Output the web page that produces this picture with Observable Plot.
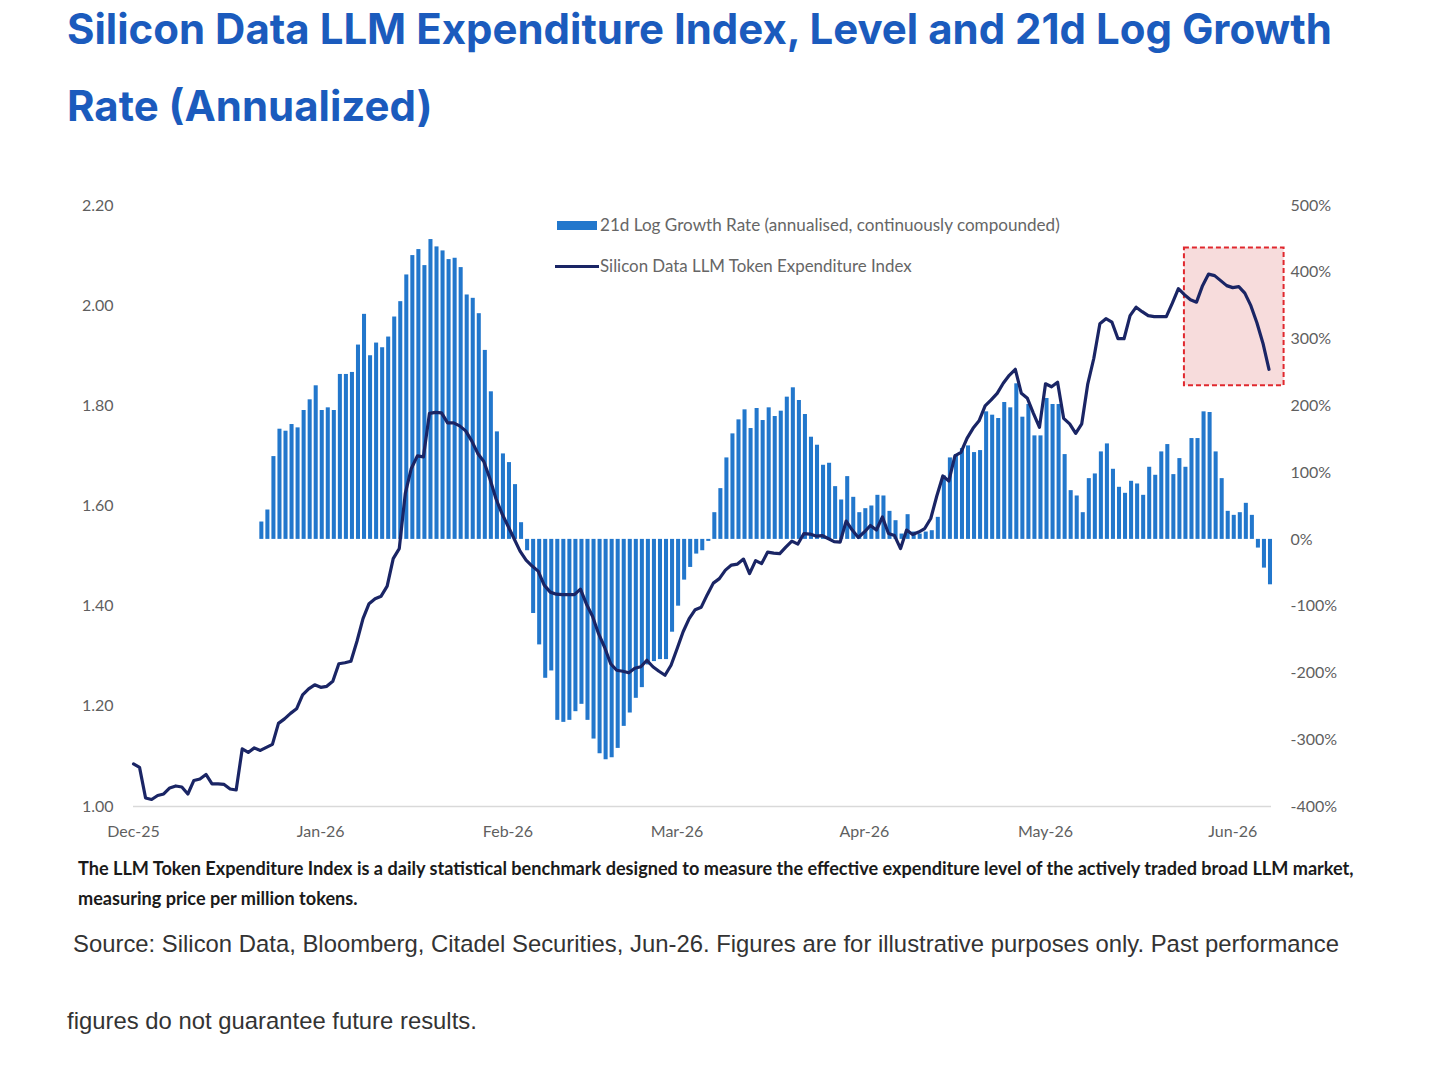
<!DOCTYPE html>
<html>
<head>
<meta charset="utf-8">
<script src="https://cdn.jsdelivr.net/npm/d3@7"></script>
<script src="https://cdn.jsdelivr.net/npm/@observablehq/plot@0.6"></script>
<style>
  html, body { margin: 0; padding: 0; background: #fff; }
  #page { position: relative; width: 1440px; height: 1069px; overflow: hidden; background: #fff; }
  .t { position: absolute; white-space: nowrap; display: inline-block; }
  .title { font-family: Inter, "Liberation Sans", sans-serif; font-weight: 700; color: #1b5bbd; font-size: 40px; line-height: 40px; letter-spacing: 0; }
  .legend { font-family: Lato, sans-serif; font-size: 16px; line-height: 16px; color: #666; }
  .note { font-family: Lato, sans-serif; font-weight: 700; font-size: 15px; line-height: 15px; color: #1a1a1a; }
  .src { font-family: "Liberation Sans", Arial, sans-serif; font-size: 22px; line-height: 22px; color: #333; }
  .chart { position: absolute; left: 0; top: 190px; }
  .sw { position: absolute; }
</style>
</head>
<body>
<div id="page">
  <div id="title1" class="t title" style="left:67px">Silicon Data LLM Expenditure Index, Level and 21d Log Growth</div>
  <div id="title2" class="t title" style="left:67px">Rate (Annualized)</div>
  <div id="chartA" class="chart"></div>
  <div id="chartB" class="chart"></div>
  <div class="sw" style="left:557px;top:221px;width:40px;height:9px;background:#2277cc"></div>
  <div class="sw" style="left:555px;top:265px;width:44px;height:3px;background:#1a2565"></div>
  <div id="leg1" class="t legend" style="left:600px">21d Log Growth Rate (annualised, continuously compounded)</div>
  <div id="leg2" class="t legend" style="left:600px">Silicon Data LLM Token Expenditure Index</div>
  <div id="note1" class="t note" style="left:78px">The LLM Token Expenditure Index is a daily statistical benchmark designed to measure the effective expenditure level of the actively traded broad LLM market,</div>
  <div id="note2" class="t note" style="left:78px">measuring price per million tokens.</div>
  <div id="src1" class="t src" style="left:73px">Source: Silicon Data, Bloomberg, Citadel Securities, Jun-26. Figures are for illustrative purposes only. Past performance</div>
  <div id="src2" class="t src" style="left:67px">figures do not guarantee future results.</div>
</div>
<script>
// ---------------- DATA ----------------
// Daily index level (left axis), starting 1 Dec 2025
const lineStart = "2025-12-01";
const indexLevel = [
  1.085,1.078,1.017,1.014,1.022,1.025,1.037,1.041,1.039,1.025,
  1.052,1.055,1.064,1.045,1.045,1.044,1.035,1.033,1.115,1.108,
  1.117,1.112,1.118,1.124,1.166,1.175,1.186,1.195,1.223,1.235,
  1.243,1.238,1.240,1.250,1.285,1.287,1.290,1.330,1.375,1.405,
  1.415,1.420,1.440,1.495,1.515,1.625,1.675,1.700,1.698,1.785,
  1.787,1.786,1.766,1.766,1.760,1.750,1.730,1.705,1.689,1.655,
  1.615,1.585,1.560,1.535,1.510,1.492,1.480,1.470,1.442,1.428,
  1.424,1.423,1.423,1.423,1.434,1.404,1.380,1.345,1.318,1.285,
  1.272,1.270,1.267,1.276,1.279,1.292,1.279,1.270,1.262,1.282,
  1.315,1.349,1.375,1.393,1.398,1.423,1.446,1.455,1.472,1.482,
  1.484,1.494,1.465,1.491,1.485,1.508,1.506,1.505,1.518,1.530,
  1.524,1.545,1.544,1.540,1.541,1.535,1.529,1.528,1.570,1.552,
  1.537,1.548,1.561,1.552,1.578,1.545,1.541,1.515,1.552,1.543,
  1.548,1.555,1.575,1.620,1.660,1.650,1.700,1.707,1.735,1.755,
  1.770,1.800,1.812,1.825,1.845,1.861,1.873,1.825,1.815,1.785,
  1.757,1.844,1.838,1.847,1.775,1.764,1.745,1.764,1.844,1.895,
  1.964,1.974,1.967,1.934,1.934,1.980,1.997,1.988,1.980,1.978,
  1.978,1.978,2.005,2.034,2.022,2.012,2.007,2.040,2.063,2.060,
  2.050,2.040,2.036,2.038,2.025,2.000,1.966,1.925,1.873
];

// Daily 21d log growth rate, annualised (%), right axis, starting 22 Dec 2025
const barStart = "2025-12-22";
const growthPct = [
  26,44,124,165,162,172,167,193,209,230,
  193,197,193,247,247,250,291,337,275,294,
  287,303,333,356,396,425,434,410,449,438,
  432,419,421,407,366,361,338,283,221,161,
  128,115,82,25,-17,-111,-158,-208,-197,-271,
  -274,-271,-258,-247,-271,-299,-321,-330,-327,-313,
  -280,-260,-238,-222,-188,-183,-180,-180,-139,-100,
  -61,-42,-22,-17,-3,40,76,122,158,179,
  194,166,196,178,197,184,192,213,227,208,
  187,153,141,111,114,79,59,94,63,40,
  46,50,66,65,42,28,8,37,11,8,
  11,13,33,95,122,127,136,140,130,133,
  191,186,181,205,197,233,183,202,155,155,
  211,202,202,127,73,65,40,91,98,131,
  143,105,78,69,87,83,66,108,96,131,
  142,97,121,108,151,151,191,190,131,91,
  42,36,40,54,36,-13,-43,-68
];

// Axis ticks
const leftTicks = [1.0, 1.2, 1.4, 1.6, 1.8, 2.0, 2.2];
const rightTicks = [-400, -300, -200, -100, 0, 100, 200, 300, 400, 500];
const monthTicks = ["2025-12-01","2026-01-01","2026-02-01","2026-03-01","2026-04-01","2026-05-01","2026-06-01"];
const xDomain = ["2025-12-01", "2026-06-07T10:00:00Z"];

// Highlighted (red dashed) region
const highlightStart = ["2026-05-24"];
const highlightEnd = ["2026-06-09T12:00:00Z"];
const highlightLow = [1.84];
const highlightHigh = [2.115];

// ---------------- BUILD ----------------
const levels = indexLevel.map((v, i) => ({date: d3.utcDay.offset(new Date(lineStart), i), value: v}));
const growth = growthPct.map((v, i) => ({date: d3.utcDay.offset(new Date(barStart), i), pct: v}));
const highlight = highlightStart.map((s, i) => ({start: new Date(s), end: new Date(highlightEnd[i]), low: highlightLow[i], high: highlightHigh[i]}));

const W = 1440, H = 660;
const common = {
  width: W, height: H,
  marginTop: 15, marginBottom: 44, marginLeft: 133, marginRight: 169,
  style: {background: "transparent", fontFamily: "Lato, sans-serif", fontSize: "16px", color: "#5f5f5f", overflow: "visible"}
};
const xd = xDomain.map(d => new Date(d));

const chartA = Plot.plot({
  ...common,
  x: {type: "utc", domain: xd, ticks: monthTicks.map(d => new Date(d)), tickFormat: d3.utcFormat("%b-%y"), tickSize: 0, tickPadding: 19, label: null},
  y: {domain: [rightTicks[0], rightTicks[rightTicks.length - 1]], axis: "right", ticks: rightTicks, tickFormat: d => d + "%", tickSize: 0, tickPadding: 19, label: null},
  marks: [
    Plot.ruleY([rightTicks[0]], {stroke: "#d9d9d9", strokeWidth: 1.5}),
    Plot.rectY(growth, {
      x1: d => d3.utcHour.offset(d.date, -6),
      x2: d => d3.utcHour.offset(d.date, 18),
      y: "pct",
      fill: "#2277cc",
      insetLeft: 1, insetRight: 1
    })
  ]
});

const chartB = Plot.plot({
  ...common,
  x: {type: "utc", domain: xd, axis: null},
  y: {domain: [leftTicks[0], leftTicks[leftTicks.length - 1]], axis: "left", ticks: leftTicks, tickFormat: d => d.toFixed(2), tickSize: 0, tickPadding: 20, label: null},
  marks: [
    Plot.rect(highlight, {x1: "start", x2: "end", y1: "low", y2: "high", fill: "#f7dcdc", stroke: "#e0282e", strokeWidth: 2, strokeDasharray: "5,3"}),
    Plot.lineY(levels, {x: "date", y: "value", stroke: "#1a2565", strokeWidth: 3.2, curve: "linear", strokeLinejoin: "round"})
  ]
});

document.getElementById("chartA").appendChild(chartA);
document.getElementById("chartB").appendChild(chartB);

// ---------------- TEXT FITTING ----------------
function fitGroup(ids, targetW, centers, capRatio) {
  const first = document.getElementById(ids[0]);
  const fs = parseFloat(getComputedStyle(first).fontSize);
  const w = first.getBoundingClientRect().width;
  const nfs = fs * targetW / w;
  ids.forEach((id, i) => {
    const el = document.getElementById(id);
    el.style.fontSize = nfs + "px";
    el.style.lineHeight = nfs + "px";
    el.style.top = (centers[i] - capRatio * nfs) + "px";
  });
}
fitGroup(["title1", "title2"], 1265, [31, 108], 0.55);
fitGroup(["leg1"], 460, [225], 0.53);
fitGroup(["leg2"], 312, [267], 0.53);
fitGroup(["note1", "note2"], 1277, [869, 899], 0.53);
fitGroup(["src1", "src2"], 1267, [945, 1022], 0.55);
</script>
</body>
</html>
